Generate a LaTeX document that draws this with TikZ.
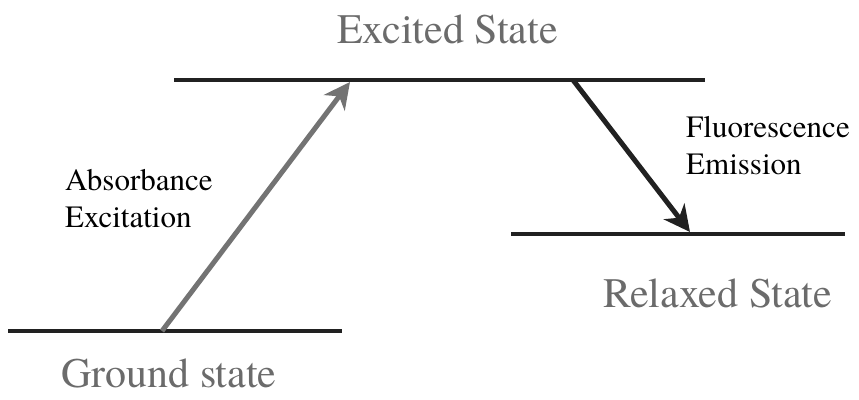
\documentclass[tikz,border=0pt]{standalone}
\usepackage{fontspec}
\setmainfont{TeX Gyre Termes}
\usetikzlibrary{arrows.meta}

\definecolor{stategray}{gray}{0.42}
\definecolor{absorbgray}{gray}{0.45}
\definecolor{emitdark}{gray}{0.13}

\tikzstyle{level} = [line width=4pt, color=emitdark]
\tikzstyle{statename} = [inner sep=0pt, anchor=base west, text=stategray, font=\fontsize{42}{42}\selectfont]
\tikzstyle{process} = [inner sep=0pt, anchor=west, align=left, font=\fontsize{31}{37}\selectfont]
\tikzstyle{transition} = [line width=5pt, -{Stealth[length=26pt, width=26pt, inset=8pt]}]

\begin{document}
\begin{tikzpicture}[x=1pt, y=-1pt]
\useasboundingbox (0,0) rectangle (859,399);

% energy levels
\coordinate (ground-l) at (8,331);
\coordinate (ground-r) at (342,331);
\coordinate (excited-l) at (174,80);
\coordinate (excited-r) at (705,80);
\coordinate (relaxed-l) at (511,234);
\coordinate (relaxed-r) at (845,234);
\draw[level] (ground-l) -- (ground-r);
\draw[level] (excited-l) -- (excited-r);
\draw[level] (relaxed-l) -- (relaxed-r);

% arrow ends on the levels
\coordinate (absorb-from) at (162,331);
\coordinate (absorb-to) at (350,82);
\coordinate (emit-from) at (573,80);
\coordinate (emit-to) at (690,232);
\draw[transition, absorbgray] (absorb-from) -- (absorb-to);
\draw[transition, emitdark] (emit-from) -- (emit-to);

% labels
\node[statename] (excited) at (337,43) {Excited State};
\node[statename] (relaxed) at (603,307) {Relaxed State};
\node[statename] (ground) at (61,387) {Ground state};
\node[process] (absorb) at (65,199) {Absorbance\\Excitation};
\node[process] (emit) at (686,146) {Fluorescence\\Emission};
\end{tikzpicture}
\end{document}
